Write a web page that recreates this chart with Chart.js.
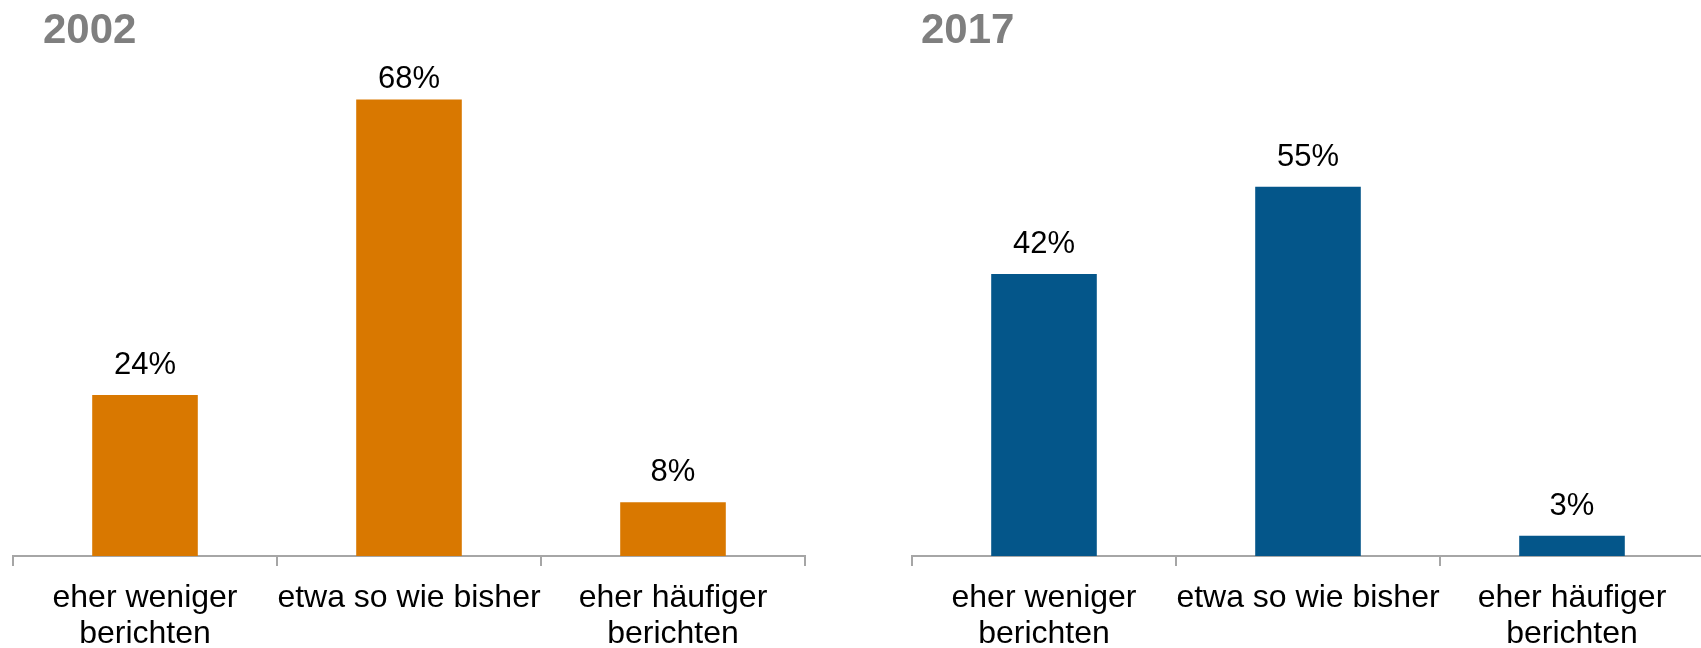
<!DOCTYPE html>
<html>
<head>
<meta charset="utf-8">
<script src="https://cdn.jsdelivr.net/npm/chart.js@4/dist/chart.umd.min.js"></script>
<style>
    html, body { margin: 0; padding: 0; background: #fff; overflow: hidden; }
    body { width: 1701px; height: 648px; position: relative; }
    canvas { position: absolute; top: 0; }
</style>
</head>
<body>
<canvas id="chart2002" width="830" height="648" style="left:0px"></canvas>
<canvas id="chart2017" width="840" height="648" style="left:880px"></canvas>
<script>
// data
var categories = [['eher weniger', 'berichten'], 'etwa so wie bisher', ['eher häufiger', 'berichten']];
var values2002 = [24, 68, 8];
var values2017 = [42, 55, 3];
var titles = ['2002', '2017'];

var fontFamily = '"Liberation Sans", Arial, sans-serif';

// title + value labels drawn on top of the bars
var labelPlugin = {
    id: 'barLabels',
    afterDatasetsDraw: function(chart, args, opts) {
        var ctx = chart.ctx;
        ctx.save();
        ctx.fillStyle = '#7f7f7f';
        ctx.font = 'bold 42px ' + fontFamily;
        ctx.textAlign = 'left';
        ctx.textBaseline = 'alphabetic';
        ctx.fillText(opts.title, opts.titleX, 43);

        ctx.fillStyle = '#000';
        ctx.font = '31px ' + fontFamily;
        ctx.textAlign = 'center';
        var meta = chart.getDatasetMeta(0);
        var data = chart.data.datasets[0].data;
        meta.data.forEach(function(bar, i) {
            var y = bar.y - 21;
            var minY = chart.chartArea.top + 21.5;
            if (y < minY) y = minY;
            ctx.fillText(data[i] + '%', bar.x, y);
        });
        ctx.restore();
    }
};

function makeChart(id, values, color, title, titleX, padLeft, padRight) {
    var ctx = document.getElementById(id).getContext('2d');
    return new Chart(ctx, {
        type: 'bar',
        data: {
            labels: categories,
            datasets: [{
                data: values,
                backgroundColor: color,
                borderWidth: 0,
                barPercentage: 0.5,
                categoryPercentage: 0.8
            }]
        },
        options: {
            responsive: false,
            animation: false,
            devicePixelRatio: 1,
            layout: { padding: { top: 66, left: padLeft, right: padRight, bottom: 0 } },
            plugins: {
                legend: { display: false },
                tooltip: { enabled: false },
                barLabels: { title: title, titleX: titleX }
            },
            scales: {
                x: {
                    afterFit: function(scale) { scale.height = 92; },
                    grid: {
                        drawOnChartArea: false,
                        drawTicks: true,
                        tickLength: 10,
                        color: '#a6a6a6',
                        lineWidth: 2
                    },
                    border: { color: '#a6a6a6', width: 2 },
                    ticks: {
                        color: '#000',
                        padding: 15,
                        maxRotation: 0,
                        autoSkip: false,
                        font: { family: fontFamily, size: 32, lineHeight: 1.1 }
                    }
                },
                y: {
                    display: false,
                    min: 0,
                    max: 73
                }
            }
        },
        plugins: [labelPlugin]
    });
}

makeChart('chart2002', values2002, '#d97800', titles[0], 43, 13, 25);
makeChart('chart2017', values2017, '#04568a', titles[1], 41, 32, 16);
</script>
</body>
</html>
